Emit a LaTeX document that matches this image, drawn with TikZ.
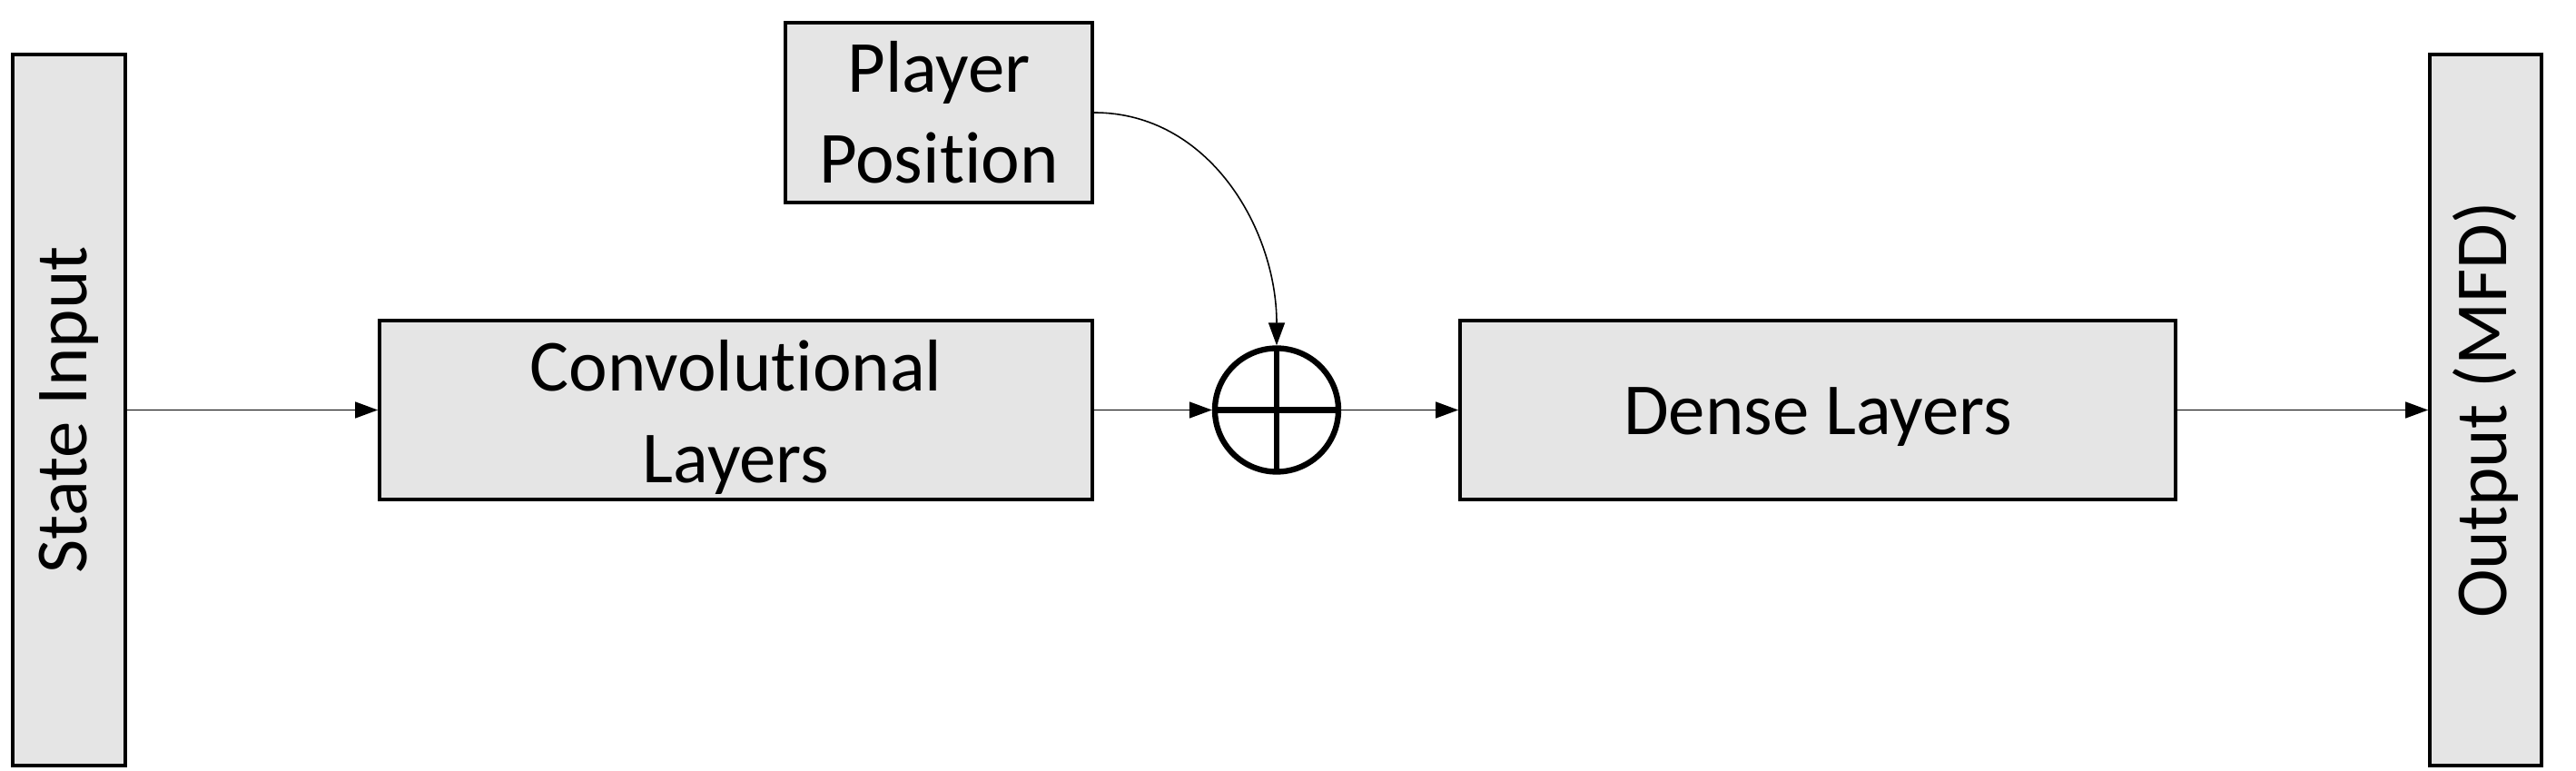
\documentclass[tikz,border=0pt]{standalone}
\usepackage{fontspec}
\setmainfont{Carlito}[Ligatures={NoCommon,NoRare,NoContextual}]
\usetikzlibrary{arrows.meta,positioning}

\newcommand{\lowtext}[1]{\raisebox{-0.08cm}[\height][\depth]{#1}}

\tikzset{
  block/.style={draw, fill=black!10, line width=1.1pt, align=center,
    font=\fontsize{23}{28.5}\selectfont, inner sep=0pt},
  link/.style={line width=0.45pt, -{Triangle[length=0.25cm,width=0.18cm]}},
  adder/.style={circle, draw, line width=1.8pt, minimum size=1.36cm, inner sep=0pt,
    path picture={
      \draw[line width=1.8pt] (path picture bounding box.north) -- (path picture bounding box.south);
      \draw[line width=1.8pt] (path picture bounding box.west) -- (path picture bounding box.east);
    }}
}

\begin{document}
\begin{tikzpicture}
\useasboundingbox (0,0) rectangle (28.37,8.49);

% input and output bars
\node[block, rotate=90, minimum width=7.83cm, minimum height=1.24cm] (state) at (0.76,3.975) {State Input};
\node[block, rotate=90, minimum width=7.83cm, minimum height=1.23cm] (output) at (27.375,3.975) {Output (MFD)};

% middle blocks
\node[block, minimum width=7.85cm, minimum height=1.97cm] (conv) at (8.105,3.975) {\lowtext{Convolutional}\\\lowtext{Layers}};
\node[block, minimum width=3.38cm, minimum height=1.98cm] (player) at (10.34,7.25) {Player\\Position};
\node[adder] (plus) at (14.06,3.975) {};
\node[block, minimum width=7.88cm, minimum height=1.97cm] (dense) at (20.02,3.975) {\lowtext{Dense Layers}};

% connections
\draw[link] (state) -- (conv);
\draw[link] (conv) -- (plus);
\draw[link] (player.east) to[out=0,in=90] (plus.north);
\draw[link] (plus) -- (dense);
\draw[link] (dense) -- (output);

\end{tikzpicture}
\end{document}
